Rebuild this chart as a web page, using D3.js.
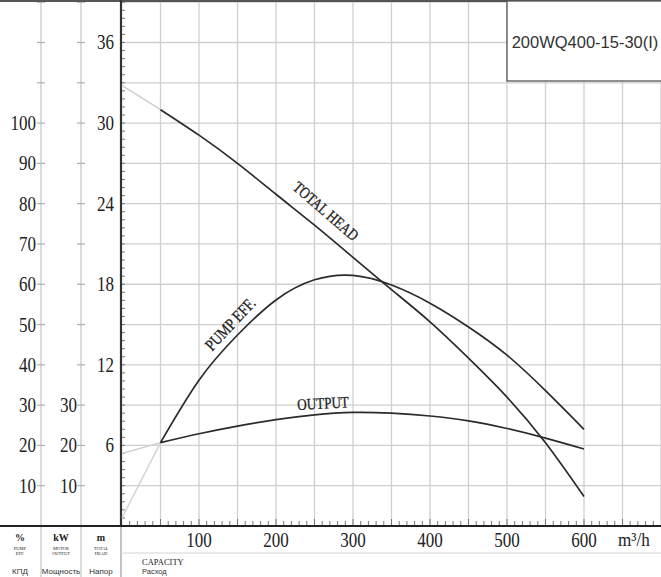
<!DOCTYPE html>
<html>
<head>
<meta charset="utf-8">
<script src="https://cdn.jsdelivr.net/npm/d3@7"></script>
<style>
  html, body { margin: 0; padding: 0; background: #fff; }
  svg { display: block; }
  .num { font-family: "Liberation Serif", "DejaVu Serif", serif; fill: #222; }
  .lbl { font-family: "Liberation Serif", "DejaVu Serif", serif; fill: #222; }
  .sans { font-family: "Liberation Sans", Arial, sans-serif; fill: #333; }
</style>
</head>
<body>
<svg id="chart"></svg>
<script>
// values
const capacity = [50, 100, 150, 200, 250, 300, 350, 400, 450, 500, 550, 600];
const totalHead = [31.0, 29.1, 27.0, 24.7, 22.4, 20.0, 17.6, 15.2, 12.5, 9.6, 6.2, 2.2];
const pumpEff = [20.7, 36.2, 47.4, 56.1, 61.1, 62.2, 59.8, 55.3, 49.4, 42.4, 33.6, 24.0];
const motorOutput = [20.7, 22.9, 24.8, 26.4, 27.6, 28.2, 28.0, 27.3, 26.1, 24.2, 21.8, 19.1];
// faint extrapolation back to zero flow
const headAtZero = 32.8;
const effAtZero = 2.0;
const outputAtZero = 18.0;

const effTicks = [10, 20, 30, 40, 50, 60, 70, 80, 90, 100];
const kwTicks = [10, 20, 30];
const headTicks = [6, 12, 18, 24, 30, 36];
const capTicks = [100, 200, 300, 400, 500, 600];
const modelName = "200WQ400-15-30(I)";

var width = 661, height = 577;
var svg = d3.select("#chart").attr("width", width).attr("height", height);

var x = d3.scaleLinear().domain([0, 700]).range([122, 661]);
var yHead = d3.scaleLinear().domain([0, 39]).range([526, 2.2]);
// % and kW share one scale: 100 on it sits level with 30 m
var yEff = d3.scaleLinear().domain([0, 130]).range([526, 2.2]);

var gridColor = "#cfcfcf";

// grid
svg.append("g").selectAll("line")
  .data(d3.range(50, 701, 50))
  .enter().append("line")
  .attr("x1", d => x(d)).attr("x2", d => x(d))
  .attr("y1", 0).attr("y2", 526)
  .attr("stroke", gridColor).attr("stroke-width", 1.3);
svg.append("g").selectAll("line")
  .data(d3.range(3, 40, 3))
  .enter().append("line")
  .attr("x1", 122).attr("x2", width)
  .attr("y1", d => yHead(d)).attr("y2", d => yHead(d))
  .attr("stroke", gridColor).attr("stroke-width", 1.3);

// left panel columns
[41, 81].forEach(function (cx) {
  svg.append("line")
    .attr("x1", cx).attr("x2", cx).attr("y1", 0).attr("y2", height)
    .attr("stroke", "#c4c4c4").attr("stroke-width", 1.2);
  svg.append("g").selectAll("line")
    .data(d3.range(3, 40, 3))
    .enter().append("line")
    .attr("x1", cx - 4).attr("x2", cx + 4)
    .attr("y1", d => yHead(d)).attr("y2", d => yHead(d))
    .attr("stroke", "#b0b0b0").attr("stroke-width", 1.2);
});

// axes lines
svg.append("line").attr("x1", 121).attr("x2", 121).attr("y1", 526).attr("y2", height)
  .attr("stroke", "#999").attr("stroke-width", 1.2);
svg.append("line").attr("x1", 121).attr("x2", width).attr("y1", 553).attr("y2", 553)
  .attr("stroke", "#d6d6d6").attr("stroke-width", 1.2);
svg.append("line").attr("x1", 0).attr("x2", width).attr("y1", 1).attr("y2", 1)
  .attr("stroke", "#555").attr("stroke-width", 2);

// minor ticks on head axis and capacity axis
svg.append("g").selectAll("line")
  .data(d3.range(0, 39.1, 0.6))
  .enter().append("line")
  .attr("x1", 121).attr("x2", 125)
  .attr("y1", d => yHead(d)).attr("y2", d => yHead(d))
  .attr("stroke", "#777").attr("stroke-width", 1);
svg.append("g").selectAll("line")
  .data(d3.range(10, 700, 10))
  .enter().append("line")
  .attr("x1", d => x(d)).attr("x2", d => x(d))
  .attr("y1", 526).attr("y2", d => d % 50 === 0 ? 519 : 521)
  .attr("stroke", "#777").attr("stroke-width", 1);

svg.append("line").attr("x1", 121).attr("x2", 121).attr("y1", 0).attr("y2", 527)
  .attr("stroke", "#333").attr("stroke-width", 2.2);
svg.append("line").attr("x1", 0).attr("x2", width).attr("y1", 526).attr("y2", 526)
  .attr("stroke", "#222").attr("stroke-width", 2.2);

// tick labels
function numLabel(tx, ty, txt, anchor) {
  svg.append("text").attr("class", "num")
    .attr("transform", "translate(" + tx + "," + ty + ") scale(0.85,1)")
    .attr("text-anchor", anchor)
    .style("font-size", "20px")
    .text(txt);
}
effTicks.forEach(d => numLabel(36, yEff(d) + 7, d, "end"));
kwTicks.forEach(d => numLabel(77, yEff(d) + 7, d, "end"));
headTicks.forEach(d => numLabel(114, yHead(d) + 7, d, "end"));
capTicks.forEach(d => numLabel(x(d), 547, d, "middle"));
svg.append("text").attr("class", "num")
  .attr("transform", "translate(618,546) scale(0.9,1)")
  .style("font-size", "19px")
  .text("m³/h");

// curves
var smooth = d3.curveNatural;
var headLine = d3.line().x((d, i) => x(capacity[i])).y(d => yHead(d)).curve(smooth);
var effLine = d3.line().x((d, i) => x(capacity[i])).y(d => yEff(d)).curve(smooth);

svg.append("line")
  .attr("x1", x(0)).attr("y1", yHead(headAtZero))
  .attr("x2", x(capacity[0])).attr("y2", yHead(totalHead[0]))
  .attr("stroke", "#cfcfcf").attr("stroke-width", 1.5);
svg.append("line")
  .attr("x1", x(0)).attr("y1", yEff(effAtZero))
  .attr("x2", x(capacity[0])).attr("y2", yEff(pumpEff[0]))
  .attr("stroke", "#d2d2d2").attr("stroke-width", 1.4);
svg.append("line")
  .attr("x1", x(0)).attr("y1", yEff(outputAtZero))
  .attr("x2", x(capacity[0])).attr("y2", yEff(motorOutput[0]))
  .attr("stroke", "#cfcfcf").attr("stroke-width", 1.4);

[[headLine, totalHead], [effLine, pumpEff], [effLine, motorOutput]].forEach(function (c) {
  svg.append("path")
    .attr("d", c[0](c[1]))
    .attr("fill", "none")
    .attr("stroke", "#2b2b2b")
    .attr("stroke-width", 1.7);
});

// curve names
function curveName(txt, cx, cy, angle, size) {
  svg.append("text").attr("class", "lbl")
    .attr("transform", "translate(" + cx + "," + cy + ") rotate(" + angle + ") scale(0.82,1)")
    .attr("text-anchor", "middle")
    .attr("dy", "0.35em")
    .style("font-size", size + "px")
    .style("stroke", "#222").style("stroke-width", 0.3)
    .text(txt);
}
curveName("TOTAL HEAD", 326, 211, 41, 16);
curveName("PUMP EFF.", 230, 324, -47, 16.5);
curveName("OUTPUT", 323, 403, -3, 16);

// model box
svg.append("rect")
  .attr("x", 507).attr("y", 1).attr("width", 156).attr("height", 80)
  .attr("fill", "#fff").attr("stroke", "#555").attr("stroke-width", 1.3);
svg.append("text").attr("class", "sans")
  .attr("x", 585).attr("y", 48)
  .attr("text-anchor", "middle")
  .style("font-size", "16.5px")
  .text(modelName);

// legend cells under the left panel
var cells = [
  { cx: 20, unit: "%", en: ["PUMP", "EFF."], ru: "КПД" },
  { cx: 61, unit: "kW", en: ["MOTOR", "OUTPUT"], ru: "Мощность" },
  { cx: 101, unit: "m", en: ["TOTAL", "HEAD"], ru: "Напор" }
];
cells.forEach(function (c) {
  svg.append("text").attr("class", "lbl")
    .attr("x", c.cx).attr("y", 541)
    .attr("text-anchor", "middle")
    .style("font-size", "10px").style("font-weight", "bold")
    .text(c.unit);
  c.en.forEach(function (t, i) {
    svg.append("text").attr("class", "lbl")
      .attr("x", c.cx).attr("y", 550 + i * 5)
      .attr("text-anchor", "middle")
      .style("font-size", "4.5px")
      .text(t);
  });
  svg.append("text").attr("class", "sans")
    .attr("x", c.cx).attr("y", 574)
    .attr("text-anchor", "middle")
    .style("font-size", "8px")
    .text(c.ru);
});
svg.append("text").attr("class", "lbl")
  .attr("x", 142).attr("y", 565)
  .style("font-size", "8.5px")
  .text("CAPACITY");
svg.append("text").attr("class", "sans")
  .attr("x", 142).attr("y", 574)
  .style("font-size", "7.5px")
  .text("Расход");
</script>
</body>
</html>
